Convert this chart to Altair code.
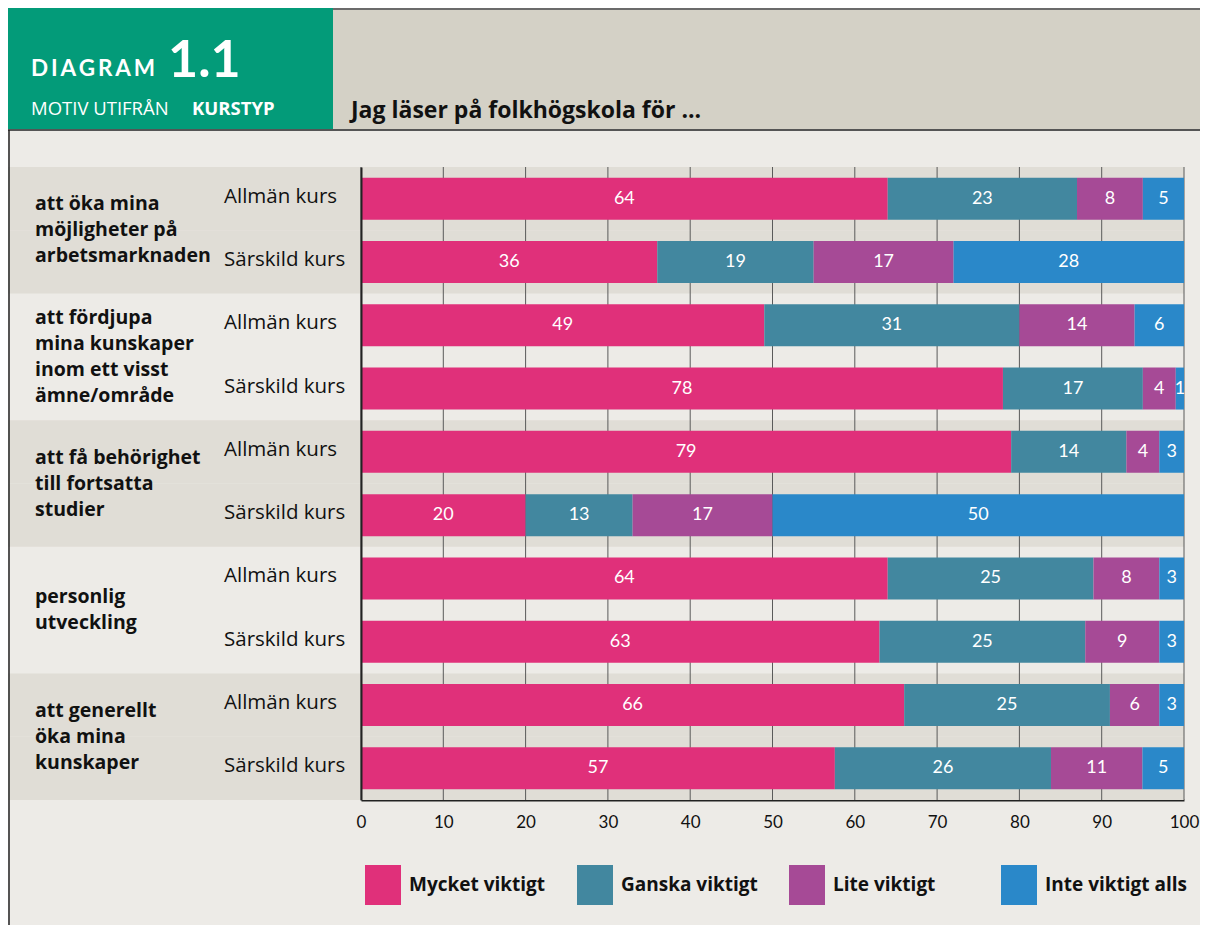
import altair as alt
import pandas as pd

# ---------------- data ----------------
group_lines = [
    ["att öka mina", "möjligheter på", "arbetsmarknaden"],
    ["att fördjupa", "mina kunskaper", "inom ett visst", "ämne/område"],
    ["att få behörighet", "till fortsatta", "studier"],
    ["personlig", "utveckling"],
    ["att generellt", "öka mina", "kunskaper"],
]
courses = ["Allmän kurs", "Särskild kurs"]
categories = ["Mycket viktigt", "Ganska viktigt", "Lite viktigt", "Inte viktigt alls"]
mycket = [64, 36, 49, 78, 79, 20, 64, 63, 66, 57]
ganska = [23, 19, 31, 17, 14, 13, 25, 25, 25, 26]
lite = [8, 17, 14, 4, 4, 17, 8, 9, 6, 11]
inte = [5, 28, 6, 1, 3, 50, 3, 3, 3, 5]
x_ticks = [0, 10, 20, 30, 40, 50, 60, 70, 80, 90, 100]

title_text = "Jag läser på folkhögskola för ..."
diagram_word = "\u2009".join("DIAGRAM")
diagram_no = "1.1"
subtitle_a = "MOTIV UTIFRÅN"
subtitle_b = "KURSTYP"

# ---------------- tables ----------------
series = [mycket, ganska, lite, inte]
row_keys = []
row_recs = []
for gi in range(len(group_lines)):
    for ci, c in enumerate(courses):
        key = f"r{gi}{ci}"
        row_keys.append(key)
        row_recs.append({"row": key, "group": gi, "course": c, "ci": ci})
rows_df = pd.DataFrame(row_recs)

long = []
for ri, key in enumerate(row_keys):
    for k, cat in enumerate(categories):
        long.append({"row": key, "cat": cat, "ord": k, "value": series[k][ri]})
df = pd.DataFrame(long)

W, H = 823, 633
LEFT, TOP, RIGHT, BOTTOM = 353, 159, 16, 125
STEP = H / len(row_keys)
FONT = "Open Sans"
NUMFONT = "Lato"
yscale = alt.Scale(domain=row_keys, paddingInner=0, paddingOuter=0)
xscale = alt.Scale(domain=[0, 100], nice=False, zero=True)

x_axis = alt.Axis(values=x_ticks, grid=False, ticks=False, title=None,
                  domainColor="#222", domainWidth=2, labelFontSize=17,
                  labelFont=NUMFONT, labelColor="#111", labelPadding=14,
                  labelFlush=False, labelOverlap=False, format="d")
y_axis = alt.Axis(labels=False, ticks=False, title=None, grid=False,
                  domainColor="#222", domainWidth=2)

Yrow = alt.Y("row:N", scale=yscale, axis=y_axis)

# background bands (darker for every other group)
bands = alt.Chart(rows_df).transform_filter("datum.group % 2 == 0").mark_rect(
    color="#e0ddd6"
).encode(y=Yrow, x=alt.value(-LEFT), x2=alt.value(W))

grid = alt.Chart(pd.DataFrame({"t": x_ticks})).mark_rule(
    color="#5a5a5a", strokeWidth=1
).encode(x=alt.X("t:Q", scale=xscale, axis=x_axis), y=alt.value(0), y2=alt.value(H))

base = alt.Chart(df).transform_joinaggregate(
    total="sum(value)", groupby=["row"]
).transform_calculate(
    pct="datum.value / datum.total * 100"
).transform_stack(
    stack="pct", groupby=["row"], as_=["x0", "x1"], sort=[alt.SortField("ord")]
).transform_calculate(mid="(datum.x0 + datum.x1) / 2")

bars = base.mark_bar(size=42).encode(
    y=Yrow,
    x=alt.X("x0:Q", scale=xscale, axis=x_axis),
    x2="x1:Q",
    color=alt.Color("cat:N", scale=alt.Scale(domain=categories,
                    range=["#e0307a", "#42879f", "#a64a96", "#2a88c9"]),
                    legend=alt.Legend(orient="none", legendX=2, legendY=698,
                                      direction="horizontal", columns=4,
                                      gridAlign="all", columnPadding=23,
                                      symbolType="M-0.9,-1H0.9V1H-0.9Z",
                                      symbolSize=1600, symbolStrokeWidth=0,
                                      symbolOpacity=1,
                                      labelFontSize=19, labelFont=FONT,
                                      labelFontWeight="bold", labelColor="#111",
                                      labelOffset=6, labelLimit=400,
                                      title=None, padding=0)),
    order=alt.Order("ord:Q"),
)

values = base.mark_text(color="white", fontSize=18, font=NUMFONT).encode(
    x=alt.X("mid:Q", scale=xscale, axis=x_axis), y=Yrow, text="value:Q"
)

course_txt = alt.Chart(rows_df).mark_text(
    align="left", baseline="middle", dy=-2, fontSize=20.5, font=FONT, color="#111"
).encode(x=alt.value(-137), y=Yrow, text="course:N")

group_layers = []
for gi, lines in enumerate(group_lines):
    gdf = pd.DataFrame({"row": [f"r{gi}0"], "label": ["\n".join(lines)]})
    group_layers.append(
        alt.Chart(gdf).mark_text(
            align="left", baseline="middle",
            dy=STEP / 2 - (len(lines) - 1) * 13,
            fontSize=19.5, font=FONT, fontWeight="bold", color="#111",
            lineBreak="\n", lineHeight=26
        ).encode(x=alt.value(-326), y=Yrow, text="label:N")
    )

one = pd.DataFrame({"a": [0]})
green = alt.Chart(one).mark_rect(color="#039b79").encode(
    x=alt.value(-LEFT), x2=alt.value(-28), y=alt.value(-159), y2=alt.value(-37))
greybox = alt.Chart(one).mark_rect(color="#d4d1c6").encode(
    x=alt.value(-28), x2=alt.value(W + RIGHT), y=alt.value(-157), y2=alt.value(-37))
top_line = alt.Chart(one).mark_rule(color="#6b6b6b", strokeWidth=2).encode(
    x=alt.value(-28), x2=alt.value(W + RIGHT), y=alt.value(-158))
bot_line = alt.Chart(one).mark_rule(color="#555", strokeWidth=2).encode(
    x=alt.value(-LEFT), x2=alt.value(W + RIGHT), y=alt.value(-37))
left_line = alt.Chart(one).mark_rule(color="#222", strokeWidth=1.5).encode(
    x=alt.value(-LEFT + 1), y=alt.value(-37), y2=alt.value(H + BOTTOM))

def txt(s, x, y, size, weight="normal", color="white", font=FONT):
    return alt.Chart(pd.DataFrame({"s": [s]})).mark_text(
        align="left", baseline="alphabetic", fontSize=size, font=font,
        fontWeight=weight, color=color
    ).encode(x=alt.value(x), y=alt.value(y), text="s:N")

t1 = txt(diagram_word, -330, -91, 22.5, "bold", font="Lato")
t2 = txt(diagram_no, -193, -90, 52, "bold", font="Lato")
t3 = txt(subtitle_a, -330, -52, 18.5)
t4 = txt(subtitle_b, -169, -52, 18.5, "bold")
t5 = txt(title_text, -10, -49, 23, "bold", "#111")

chart = alt.layer(
    bands, grid, bars, values, course_txt, *group_layers,
    green, greybox, top_line, bot_line, left_line, t1, t2, t3, t4, t5
).properties(
    width=W, height=H,
    autosize=alt.AutoSizeParams(type="none"),
    padding={"left": LEFT, "top": TOP, "right": RIGHT, "bottom": BOTTOM},
).configure(background="#edebe7").configure_view(stroke=None)

chart.save("out.html", embed_options={"renderer": "svg", "actions": False})
